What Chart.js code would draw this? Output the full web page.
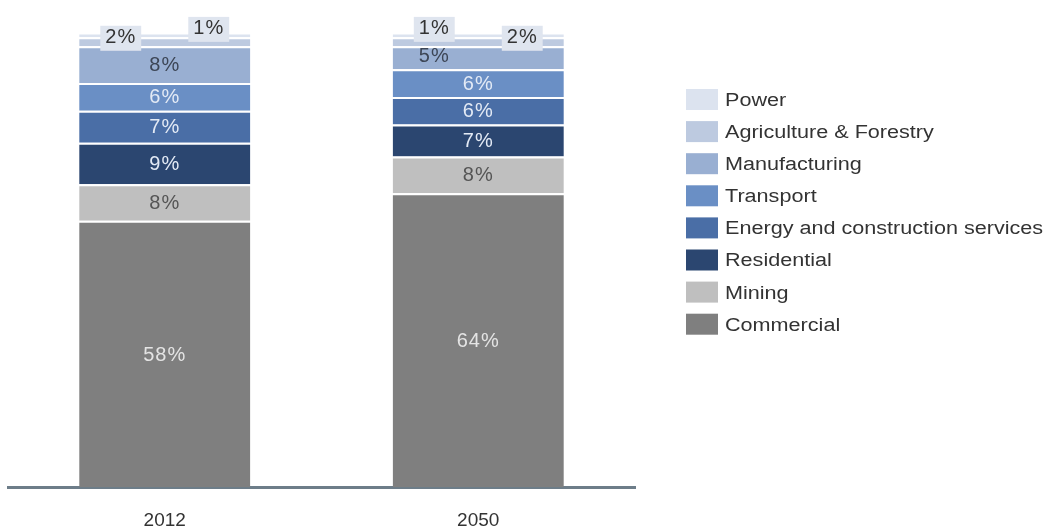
<!DOCTYPE html>
<html>
<head>
<meta charset="utf-8">
<script src="https://cdn.jsdelivr.net/npm/chart.js@4/dist/chart.umd.min.js"></script>
<style>
  html, body { margin: 0; padding: 0; background: #ffffff; }
  #wrap { width: 1047px; height: 529px; position: relative; }
</style>
</head>
<body>
<div id="wrap"><canvas id="c" width="1047" height="529"></canvas></div>
<script>
// Share of emissions by sector, per year (percent)
const years = ['2012', '2050'];
const commercial    = [58, 64];
const mining        = [8, 8];
const residential   = [9, 7];
const energy        = [7, 6];
const transport     = [6, 6];
const manufacturing = [8, 5];
const agriculture   = [2, 2];
const power         = [1, 1];

// Stacking order, bottom to top
const sectors = [
  { label: 'Commercial', data: commercial, color: '#7f7f7f', text: '#e4e4e4' },
  { label: 'Mining', data: mining, color: '#bfbfbf', text: '#555555' },
  { label: 'Residential', data: residential, color: '#2b4670', text: '#e3eaf5' },
  { label: 'Energy and construction services', data: energy, color: '#4a6ea6', text: '#e3eaf5' },
  { label: 'Transport', data: transport, color: '#6a8fc5', text: '#e3eaf5' },
  { label: 'Manufacturing', data: manufacturing, color: '#99afd2', text: '#3d4656' },
  { label: 'Agriculture & Forestry', data: agriculture, color: '#bdcae0', text: '#333333' },
  { label: 'Power', data: power, color: '#dce3ef', text: '#333333' }
];

// Thin segments get their labels pushed out to one side of the bar (-1 left, +1 right)
const sideLabels = {
  'Agriculture & Forestry': { '2012': -1, '2050': 1, boxed: true, lift: -5 },
  'Power': { '2012': 1, '2050': -1, boxed: true, lift: -7 },
  'Manufacturing': { '2050': -1, boxed: false, lift: -2 }
};

const FONT = '"Liberation Sans", Arial, sans-serif';

const segmentLabels = {
  id: 'segmentLabels',
  afterDatasetsDraw(chart) {
    const ctx = chart.ctx;
    ctx.save();
    ctx.font = '20px ' + FONT;
    ctx.textAlign = 'center';
    ctx.textBaseline = 'middle';
    ctx.letterSpacing = '1px';
    chart.data.datasets.forEach((ds, di) => {
      const meta = chart.getDatasetMeta(di);
      const side = sideLabels[ds.label];
      meta.data.forEach((bar, i) => {
        const txt = ds.data[i] + '%';
        let x = bar.x;
        let y = (bar.y + bar.base) / 2 + 1;
        let boxed = false;
        if (side && side[years[i]] !== undefined) {
          x = bar.x + side[years[i]] * 44;
          y += side.lift;
          boxed = side.boxed;
        }
        if (boxed) {
          const w = ctx.measureText(txt).width + 10;
          ctx.fillStyle = '#dfe5ef';
          ctx.fillRect(x - w / 2, y - 12, w, 25);
        }
        ctx.fillStyle = ds.textColor;
        ctx.fillText(txt, x, y);
      });
    });
    ctx.restore();
  }
};

const sideLegend = {
  id: 'sideLegend',
  afterDraw(chart) {
    const ctx = chart.ctx;
    ctx.save();
    ctx.font = '18px ' + FONT;
    ctx.textAlign = 'left';
    ctx.textBaseline = 'middle';
    const list = chart.data.datasets.slice().reverse();
    list.forEach((ds, k) => {
      const y = 89 + k * 32.1;
      ctx.fillStyle = ds.backgroundColor;
      ctx.fillRect(686, y, 32, 21);
      ctx.fillStyle = '#333333';
      ctx.save();
      ctx.translate(725, y + 12);
      ctx.scale(1.2, 1);
      ctx.fillText(ds.label, 0, 0);
      ctx.restore();
    });
    ctx.restore();
  }
};

new Chart(document.getElementById('c'), {
  type: 'bar',
  data: {
    labels: years,
    datasets: sectors.map(s => ({
      label: s.label,
      data: s.data,
      backgroundColor: s.color,
      borderColor: '#ffffff',
      borderWidth: { top: 2, bottom: 0, left: 0, right: 0 },
      borderSkipped: false,
      textColor: s.text,
      categoryPercentage: 1,
      barPercentage: 0.546
    }))
  },
  options: {
    responsive: false,
    animation: false,
    layout: { padding: { top: 28, left: 8, right: 412, bottom: -25 } },
    plugins: {
      legend: { display: false },
      tooltip: { enabled: false }
    },
    scales: {
      x: {
        stacked: true,
        grid: { display: false, drawTicks: false },
        border: { display: true, color: '#6d7d89', width: 3 },
        ticks: { color: '#333333', font: { family: FONT, size: 19 }, padding: 22 }
      },
      y: {
        stacked: true,
        display: false,
        min: 0,
        max: 100
      }
    }
  },
  plugins: [segmentLabels, sideLegend]
});
</script>
</body>
</html>
